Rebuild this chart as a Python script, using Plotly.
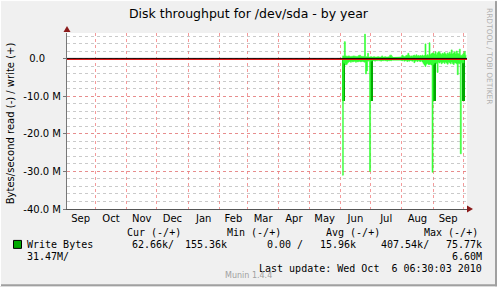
import pandas as pd
import plotly.graph_objects as go

# ---------------- data ----------------
month_labels = ["Sep", "Oct", "Nov", "Dec", "Jan", "Feb", "Mar", "Apr", "May", "Jun", "Jul", "Aug", "Sep"]
month_label_dates = ["2009-09-16 12:00", "2009-10-16 12:00", "2009-11-16 00:00", "2009-12-16 12:00",
                     "2010-01-16 12:00", "2010-02-15 00:00", "2010-03-16 12:00", "2010-04-16 00:00",
                     "2010-05-16 12:00", "2010-06-16 00:00", "2010-07-16 12:00", "2010-08-16 12:00",
                     "2010-09-16 00:00"]
y_tick_values = [0, -10e6, -20e6, -30e6, -40e6]
y_tick_labels = ["0.0", "-10.0 M", "-20.0 M", "-30.0 M", "-40.0 M"]

# daily samples, first day 2010-06-03 ; None = no data
first_day = "2010-06-03"
write_mb = [0.8, 0.8, 4.6, 0.8, 0.7, 0.7, 0.8, 0.7, 0.6, 0.7, 0.7, 0.8, 0.7, 0.7, 0.6, 0.7,
            0.9, 1.0, 0.7, 0.7, 0.6, 0.7, 6.6, 0.6, 0.6, 1.5, 0.5, 0.5, 0.6, 0.5, 0.5, 0.6,
            0.5, 0.5, 0.5, 0.6, 0.5, 0.5, 0.5, 0.8, 0.5, 0.5, 0.6, 0.5, 0.5, 0.5, 0.6, 1.0,
            1.0, 0.6, 0.5,
            None, None, None, None, None, None, None,
            0.6, 1.0, 0.8, 0.6, 0.7, 0.9, 1.0, 1.5, 0.9, 0.7, 0.8, 0.7, 0.9, 1.0, 0.8, 1.1,
            0.8, 0.9, 0.8, 0.9, 0.8, 1.0, 0.8, 0.9, 4.0, 0.9, 1.1, 1.0, 4.3, 1.2, 1.4, 1.6,
            1.5, 1.3, 1.9, 1.2, 1.6, 1.9, 1.8, 1.4, 1.2, 1.5, 1.3, 1.7, 1.4, 1.2, 1.6, 1.3,
            1.8, 1.4, 2.4, 1.3, 1.6, 1.9, 1.4, 2.1, 1.5, 1.3, 2.6, 1.0, 0.9, 1.2, 1.5, 2.0, 1.0]
read_mb = [31.0, 1.0, 1.2, 1.6, 1.4, 1.0, 0.8, 0.7, 0.9, 0.6, 0.8, 0.7, 0.6, 0.9, 0.7, 0.8,
           0.6, 0.7, 0.8, 0.6, 0.7, 0.8, 0.9, 4.0, 3.2, 0.6, 0.5, 30.0, 0.6, 0.4, 0.5, 0.4,
           0.6, 0.4, 0.5, 0.3, 0.5, 0.4, 0.6, 0.4, 0.5, 0.3, 0.5, 0.4, 0.6, 0.4, 0.5, 0.4,
           0.5, 0.3, 0.4,
           None, None, None, None, None, None, None,
           0.4, 0.5, 0.3, 0.6, 0.5, 0.4, 0.7, 0.5, 0.6, 0.4, 0.5, 0.6, 0.5, 1.0, 0.6, 0.5,
           0.7, 0.5, 0.6, 0.7, 0.5, 0.8, 1.2, 1.6, 2.0, 1.4, 1.2, 1.5, 1.5, 1.4, 1.6, 30.2,
           1.5, 1.1, 1.0, 1.2, 3.6, 0.9, 1.1, 0.8, 1.3, 1.0, 0.9, 1.2, 0.8, 1.1, 1.4, 0.9,
           1.0, 1.3, 0.8, 1.2, 1.5, 1.0, 1.1, 1.3, 4.2, 1.2, 1.3, 25.3, 1.0, 1.1, 1.0]
avg_read_days = ["2010-06-03", "2010-06-04", "2010-07-01", "2010-07-02",
                 "2010-09-01", "2010-09-02", "2010-09-30", "2010-10-01"]
avg_read_mb = [11.1, 11.1, 11.1, 11.1, 11.1, 11.1, 11.1, 11.1]

legend_headers = ["Cur (-/+)", "Min (-/+)", "Avg (-/+)", "Max (-/+)"]
stats_line = ["62.66k/", "155.36k", "0.00 /", "15.96k", "407.54k/", "75.77k"]
stats_line2 = ["31.47M/", "6.60M"]
last_update = "Last update: Wed Oct  6 06:30:03 2010"

# ---------------- figure ----------------
W, H = 497, 287
L, R, T, B = 67, 467, 33, 209.5


def px(x):
    return (x - L) / (R - L)


def py(y):
    return (B - y) / (B - T)


days = pd.date_range(first_day, periods=len(write_mb), freq="D")
step_x = list(days) + [days[-1] + pd.Timedelta(days=1)]
w_vals = [None if v is None else v * 1e6 for v in write_mb]
r_vals = [None if v is None else -v * 1e6 for v in read_mb]
w_vals = w_vals + [w_vals[-1]]
r_vals = r_vals + [r_vals[-1]]

LIGHT = "#33ff33"
DARK = "#00aa00"

fig = go.Figure()
fig.add_trace(go.Scatter(x=step_x, y=w_vals, mode="lines", line=dict(shape="hv", width=0.6, color=LIGHT),
                         fill="tozeroy", fillcolor=LIGHT, connectgaps=False, showlegend=False))
fig.add_trace(go.Scatter(x=step_x, y=r_vals, mode="lines", line=dict(shape="hv", width=0.6, color=LIGHT),
                         fill="tozeroy", fillcolor=LIGHT, connectgaps=False, showlegend=False))
fig.add_trace(go.Bar(x=pd.to_datetime(avg_read_days) + pd.Timedelta(hours=12),
                     y=[-v * 1e6 for v in avg_read_mb], width=86400000,
                     marker=dict(color=DARK, line=dict(width=0)), showlegend=False))

fig.update_layout(
    width=W, height=H, autosize=False,
    margin=dict(l=L, r=W - R, t=T, b=H - B),
    paper_bgcolor="#f0f0f0", plot_bgcolor="#ffffff",
    font=dict(family="DejaVu Sans", size=10, color="#000000"),
    bargap=0,
    title=dict(text="Disk throughput for /dev/sda - by year", x=(248.5) / W, xanchor="center",
               y=1 - 14 / H, yanchor="middle", font=dict(size=12.5, color="#000000")),
)
fig.update_xaxes(
    type="date", range=["2009-09-02 22:00", "2010-10-04 16:00"],
    tickvals=month_label_dates, ticktext=month_labels, ticks="", showgrid=False,
    showline=True, linecolor="#555555", linewidth=1,
    minor=dict(dtick="M1", tick0="2009-10-01", showgrid=True, gridcolor="rgba(240,120,120,0.75)",
               griddash="dot", gridwidth=1, ticks=""),
    tickfont=dict(size=10), zeroline=False,
)
fig.update_yaxes(
    range=[-40e6, 6.9e6], tickvals=y_tick_values,
    ticktext=[t if "M" in t else t + "\u00a0\u00a0\u00a0\u00a0\u00a0" for t in y_tick_labels],
    showgrid=True, gridcolor="rgba(240,120,120,0.75)", griddash="dot", gridwidth=1,
    minor=dict(dtick=2e6, tick0=0, showgrid=True, gridcolor="rgba(150,150,150,0.5)", griddash="dot",
               gridwidth=1),
    ticks="outside", ticklen=3, tickcolor="#777777",
    showline=True, linecolor="#777777", linewidth=1, zeroline=False,
    tickfont=dict(size=10),
)

shapes = []
# zero rules (black then red)
shapes.append(dict(type="line", xref="paper", x0=0, x1=1, yref="y", y0=0.13e6, y1=0.13e6,
                   line=dict(color="#000000", width=1)))
shapes.append(dict(type="line", xref="paper", x0=0, x1=1, yref="y", y0=-0.14e6, y1=-0.14e6,
                   line=dict(color="#e00000", width=1)))
# arrows
shapes.append(dict(type="path", xref="paper", yref="paper",
                   path=f"M {px(63.5)} {py(32)} L {px(70.5)} {py(32)} L {px(67)} {py(26)} Z",
                   fillcolor="#8b1a1a", line=dict(width=0)))
shapes.append(dict(type="path", xref="paper", yref="paper",
                   path=f"M {px(467)} {py(206)} L {px(467)} {py(213)} L {px(473)} {py(209.5)} Z",
                   fillcolor="#8b1a1a", line=dict(width=0)))
# legend swatch
shapes.append(dict(type="rect", xref="paper", yref="paper", x0=px(13.5), x1=px(21.5), y0=py(249), y1=py(241),
                   fillcolor=DARK, line=dict(color="#000000", width=1)))
# frame
shapes.append(dict(type="line", xref="paper", yref="paper", x0=px(0), x1=px(497), y0=py(286), y1=py(286),
                   line=dict(color="#a0a0a0", width=2)))
shapes.append(dict(type="line", xref="paper", yref="paper", x0=px(496), x1=px(496), y0=py(0), y1=py(287),
                   line=dict(color="#a0a0a0", width=2)))
shapes.append(dict(type="line", xref="paper", yref="paper", x0=px(0), x1=px(497), y0=py(0.5), y1=py(0.5),
                   line=dict(color="#ffffff", width=1)))
shapes.append(dict(type="line", xref="paper", yref="paper", x0=px(0.5), x1=px(0.5), y0=py(0), y1=py(287),
                   line=dict(color="#ffffff", width=1)))
fig.update_layout(shapes=shapes)

MONO = "DejaVu Sans Mono"
ann = []


def text(t, x, y, anchor="left", size=10, color="#000000", family=MONO, angle=0):
    ann.append(dict(text=t.replace(" ", "\u00a0"), x=px(x), y=py(y), xref="paper", yref="paper",
                    xanchor=anchor, yanchor="middle", showarrow=False, textangle=angle,
                    font=dict(family=family, size=size, color=color), borderpad=0))


hdr_x = [125.7, 225.7, 325, 423.3]
for h, x in zip(legend_headers, hdr_x):
    text(h, x, 233.3)
text("Write Bytes", 26, 245)
text(stats_line[0], 130.7, 245)
text(stats_line[1], 184.3, 245)
text(stats_line[2], 265.7, 245)
text(stats_line[3], 319, 245)
text(stats_line[4], 380, 245)
text(stats_line[5], 482.7, 245, anchor="right")
text(stats_line2[0], 26, 257.3)
text(stats_line2[1], 482.7, 257.3, anchor="right")
text(last_update, 483.3, 269.3, anchor="right")
text("Munin 1.4.4", 248, 276, anchor="center", size=8, color="#a0a0a0", family="DejaVu Sans")
text("RRDTOOL / TOBI OETIKER", 489, 56, anchor="center", size=7.5, color="#b0b0b0", family="DejaVu Sans",
     angle=90)
text("Bytes/second read (-) / write (+)", 10, 123.5, anchor="center", size=10, color="#000000",
     family="DejaVu Sans", angle=-90)
fig.update_layout(annotations=ann)

fig.write_html("out.html")
